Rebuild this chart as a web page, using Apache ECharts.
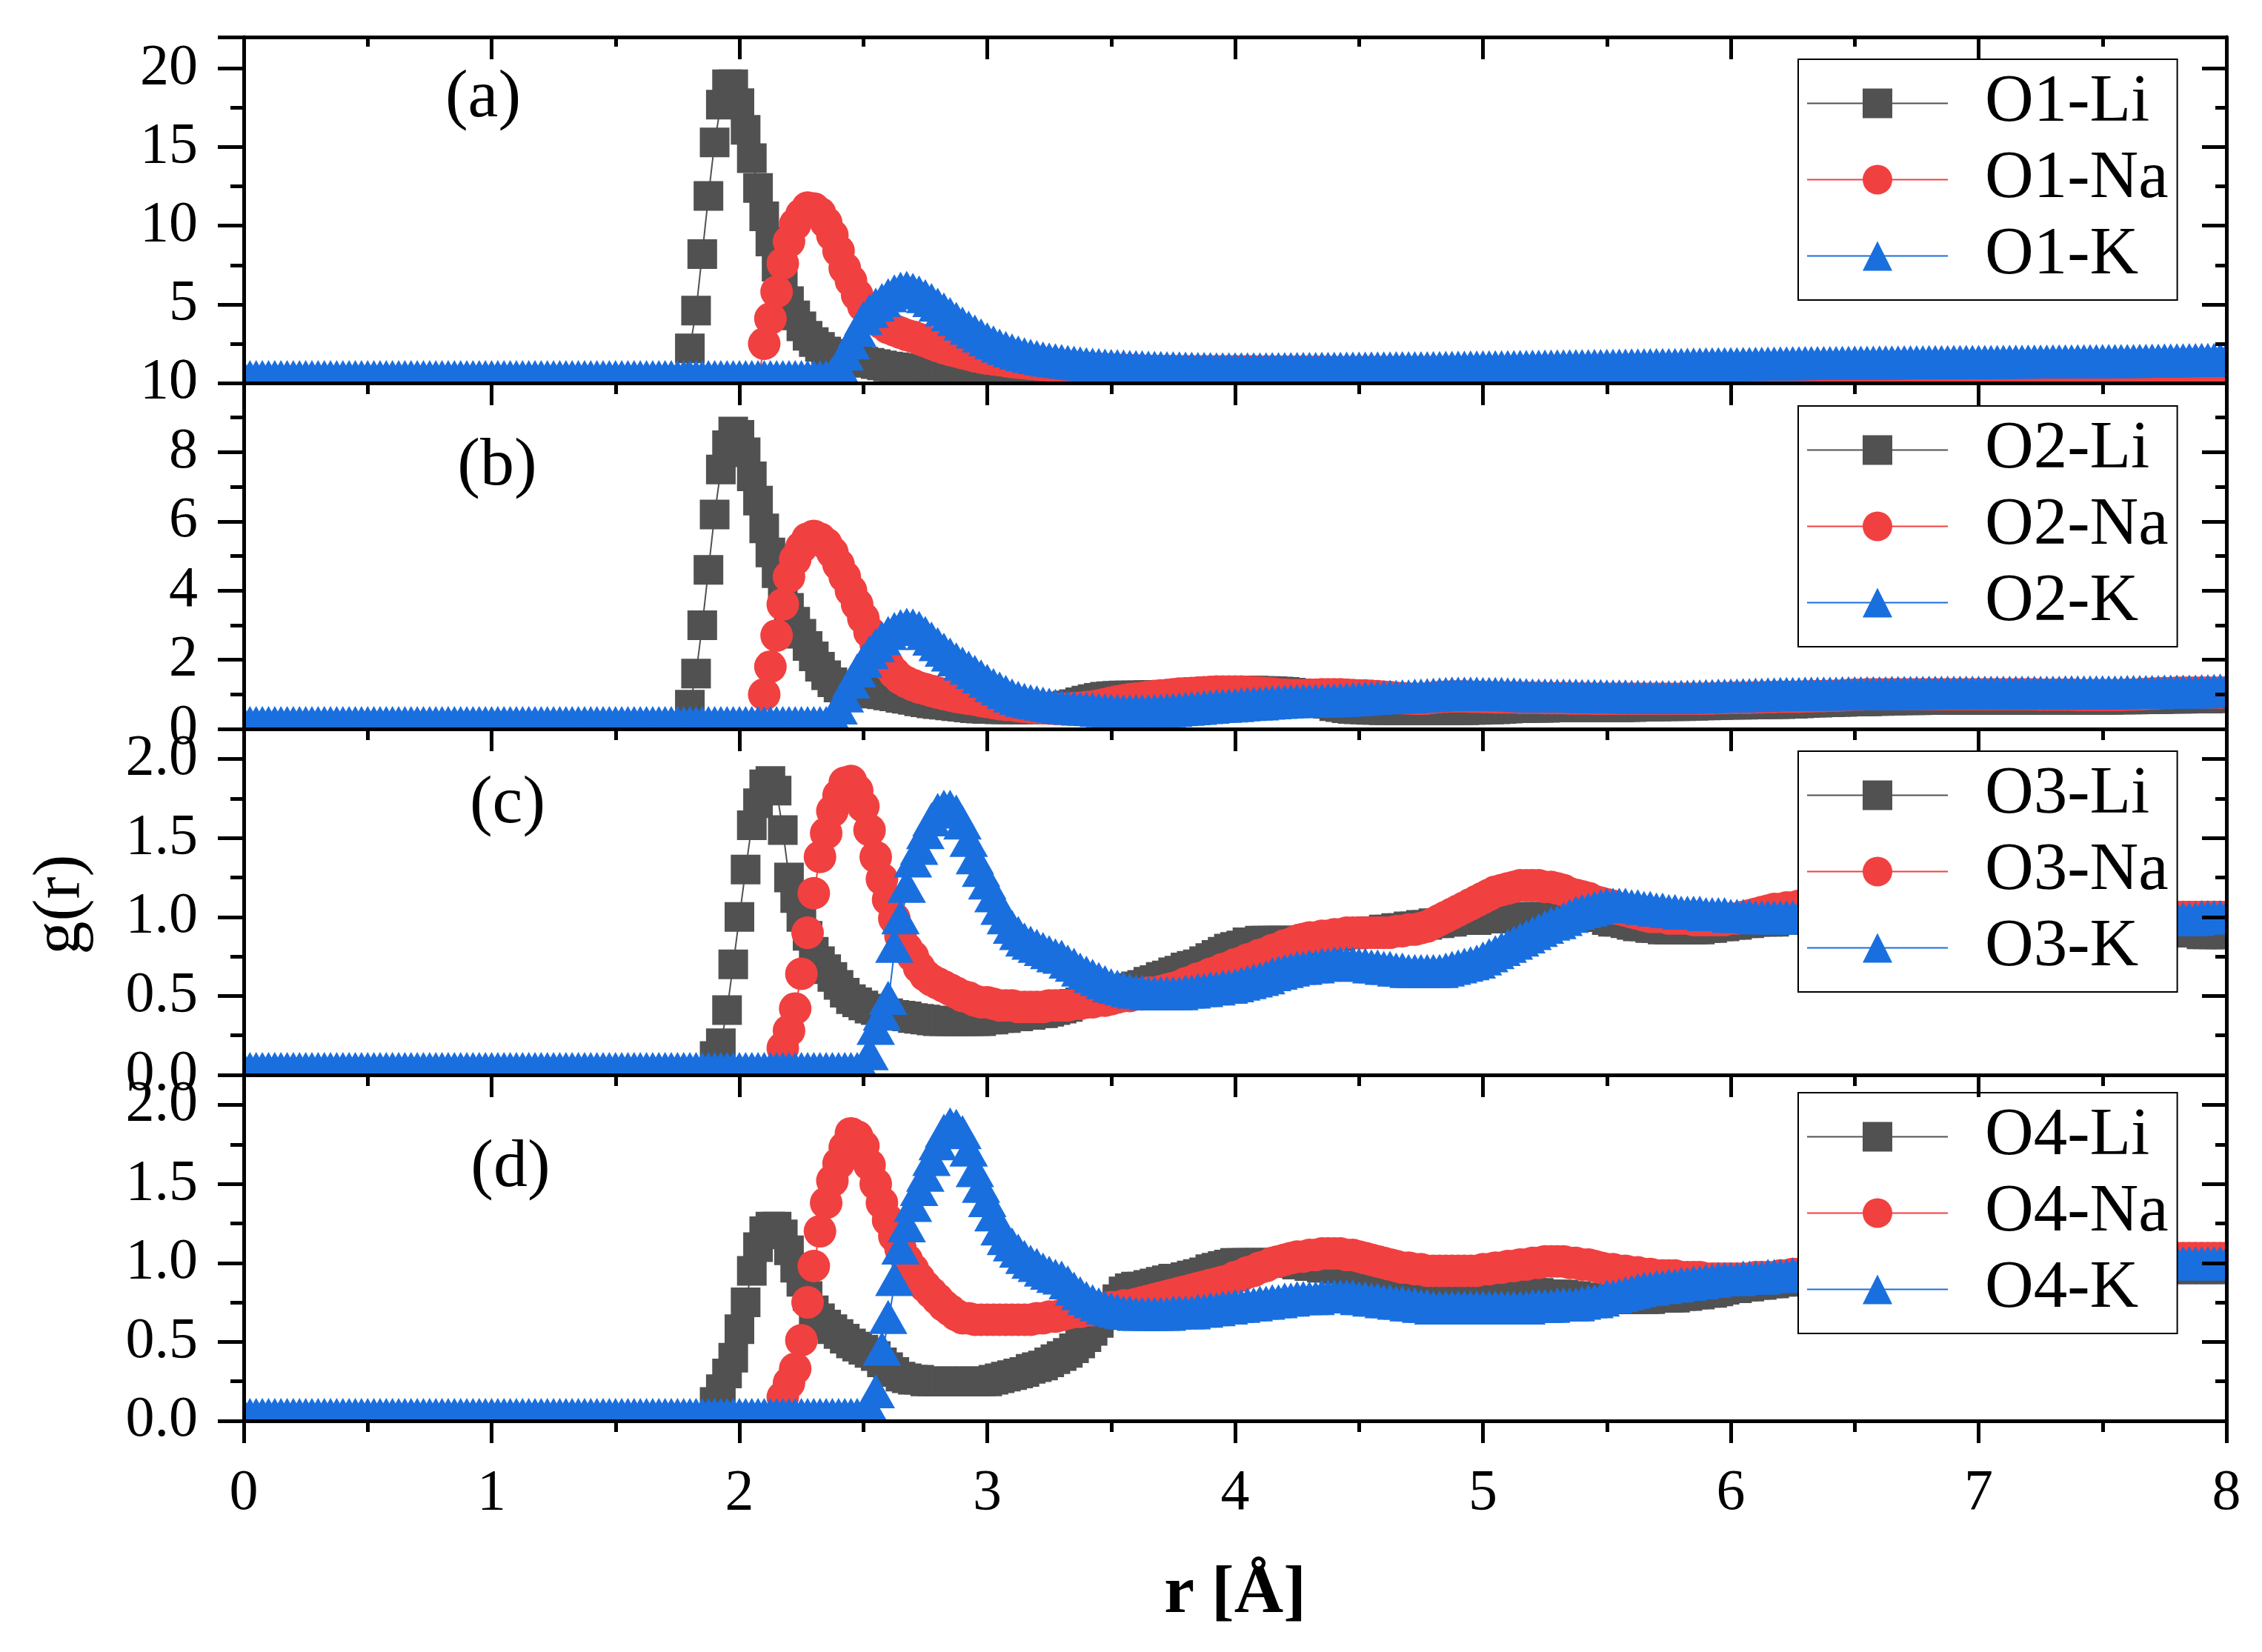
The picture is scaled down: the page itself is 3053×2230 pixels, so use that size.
<!DOCTYPE html>
<html>
<head>
<meta charset="utf-8">
<title>g(r)</title>
<script src="https://cdn.jsdelivr.net/npm/echarts@6.0.0/dist/echarts.min.js"></script>
<style>
html, body { margin: 0; padding: 0; background: #fff; }
#main { width: 3053px; height: 2230px; }
</style>
</head>
<body>
<div id="main"></div>
<script>
// r grid (Å), one row = 0.5 Å
var r = [
  0,0.025,0.05,0.075,0.1,0.125,0.15,0.175,0.2,0.225,0.25,0.275,0.3,0.325,0.35,0.375,0.4,0.425,0.45,0.475,
  0.5,0.525,0.55,0.575,0.6,0.625,0.65,0.675,0.7,0.725,0.75,0.775,0.8,0.825,0.85,0.875,0.9,0.925,0.95,0.975,
  1,1.025,1.05,1.075,1.1,1.125,1.15,1.175,1.2,1.225,1.25,1.275,1.3,1.325,1.35,1.375,1.4,1.425,1.45,1.475,
  1.5,1.525,1.55,1.575,1.6,1.625,1.65,1.675,1.7,1.725,1.75,1.775,1.8,1.825,1.85,1.875,1.9,1.925,1.95,1.975,
  2,2.025,2.05,2.075,2.1,2.125,2.15,2.175,2.2,2.225,2.25,2.275,2.3,2.325,2.35,2.375,2.4,2.425,2.45,2.475,
  2.5,2.525,2.55,2.575,2.6,2.625,2.65,2.675,2.7,2.725,2.75,2.775,2.8,2.825,2.85,2.875,2.9,2.925,2.95,2.975,
  3,3.025,3.05,3.075,3.1,3.125,3.15,3.175,3.2,3.225,3.25,3.275,3.3,3.325,3.35,3.375,3.4,3.425,3.45,3.475,
  3.5,3.525,3.55,3.575,3.6,3.625,3.65,3.675,3.7,3.725,3.75,3.775,3.8,3.825,3.85,3.875,3.9,3.925,3.95,3.975,
  4,4.025,4.05,4.075,4.1,4.125,4.15,4.175,4.2,4.225,4.25,4.275,4.3,4.325,4.35,4.375,4.4,4.425,4.45,4.475,
  4.5,4.525,4.55,4.575,4.6,4.625,4.65,4.675,4.7,4.725,4.75,4.775,4.8,4.825,4.85,4.875,4.9,4.925,4.95,4.975,
  5,5.025,5.05,5.075,5.1,5.125,5.15,5.175,5.2,5.225,5.25,5.275,5.3,5.325,5.35,5.375,5.4,5.425,5.45,5.475,
  5.5,5.525,5.55,5.575,5.6,5.625,5.65,5.675,5.7,5.725,5.75,5.775,5.8,5.825,5.85,5.875,5.9,5.925,5.95,5.975,
  6,6.025,6.05,6.075,6.1,6.125,6.15,6.175,6.2,6.225,6.25,6.275,6.3,6.325,6.35,6.375,6.4,6.425,6.45,6.475,
  6.5,6.525,6.55,6.575,6.6,6.625,6.65,6.675,6.7,6.725,6.75,6.775,6.8,6.825,6.85,6.875,6.9,6.925,6.95,6.975,
  7,7.025,7.05,7.075,7.1,7.125,7.15,7.175,7.2,7.225,7.25,7.275,7.3,7.325,7.35,7.375,7.4,7.425,7.45,7.475,
  7.5,7.525,7.55,7.575,7.6,7.625,7.65,7.675,7.7,7.725,7.75,7.775,7.8,7.825,7.85,7.875,7.9,7.925,7.95,7.975,
  8
];

// (a) O1
var o1Li = [
  0,0,0,0,0,0,0,0,0,0,0,0,0,0,0,0,0,0,0,0,
  0,0,0,0,0,0,0,0,0,0,0,0,0,0,0,0,0,0,0,0,
  0,0,0,0,0,0,0,0,0,0,0,0,0,0,0,0,0,0,0,0,
  0,0,0,0,0,0,0,0,0,0,0,0,2.2,4.6,8.2,11.9,15.3,17.7,19.0,19.0,
  17.8,16.1,14.3,12.4,10.6,9.0,7.4,6.2,5.2,4.3,3.6,3.0,2.6,2.3,2.0,1.85,1.7,1.6,1.5,1.42,
  1.35,1.28,1.2,1.12,1.05,1.0,0.95,0.92,0.9,0.86,0.82,0.78,0.75,0.72,0.7,0.68,0.66,0.64,0.62,0.61,
  0.6,0.59,0.58,0.57,0.57,0.57,0.57,0.57,0.58,0.59,0.6,0.61,0.62,0.63,0.65,0.66,0.68,0.69,0.7,0.71,
  0.72,0.72,0.73,0.73,0.74,0.74,0.75,0.75,0.76,0.76,0.77,0.77,0.78,0.78,0.78,0.78,0.79,0.79,0.79,0.79,
  0.8,0.8,0.8,0.8,0.79,0.79,0.78,0.77,0.76,0.75,0.73,0.72,0.7,0.68,0.66,0.65,0.63,0.62,0.6,0.59,
  0.58,0.57,0.57,0.56,0.56,0.56,0.56,0.56,0.56,0.56,0.56,0.56,0.56,0.56,0.57,0.57,0.57,0.57,0.58,0.58,
  0.58,0.58,0.59,0.59,0.6,0.6,0.6,0.6,0.61,0.61,0.61,0.61,0.62,0.62,0.62,0.62,0.62,0.62,0.63,0.63,
  0.63,0.63,0.63,0.63,0.64,0.64,0.64,0.64,0.65,0.65,0.65,0.65,0.66,0.66,0.66,0.66,0.67,0.67,0.67,0.67,
  0.68,0.68,0.68,0.68,0.69,0.69,0.69,0.69,0.7,0.7,0.7,0.7,0.71,0.71,0.71,0.71,0.72,0.72,0.72,0.72,
  0.73,0.73,0.73,0.73,0.74,0.74,0.74,0.74,0.74,0.74,0.75,0.75,0.75,0.75,0.75,0.75,0.76,0.76,0.76,0.76,
  0.76,0.76,0.77,0.77,0.77,0.77,0.77,0.77,0.78,0.78,0.78,0.78,0.78,0.78,0.78,0.78,0.79,0.79,0.79,0.79,
  0.79,0.79,0.8,0.8,0.8,0.8,0.8,0.8,0.8,0.8,0.81,0.81,0.81,0.81,0.81,0.81,0.82,0.82,0.82,0.82,
  0.82
];
var o1Na = [
  0,0,0,0,0,0,0,0,0,0,0,0,0,0,0,0,0,0,0,0,
  0,0,0,0,0,0,0,0,0,0,0,0,0,0,0,0,0,0,0,0,
  0,0,0,0,0,0,0,0,0,0,0,0,0,0,0,0,0,0,0,0,
  0,0,0,0,0,0,0,0,0,0,0,0,0,0,0,0,0,0,0,0,
  0,0,0,0,2.5,4.1,5.8,7.6,9.0,10.1,10.7,11.15,11.1,10.8,10.2,9.4,8.4,7.3,6.5,5.6,
  4.9,4.4,4.1,3.8,3.5,3.35,3.2,3.05,2.95,2.8,2.65,2.5,2.35,2.22,2.1,2.0,1.9,1.8,1.7,1.62,
  1.55,1.5,1.45,1.39,1.33,1.29,1.25,1.21,1.18,1.15,1.12,1.1,1.07,1.03,1.0,0.97,0.95,0.92,0.9,0.88,
  0.86,0.84,0.83,0.81,0.8,0.79,0.78,0.77,0.76,0.75,0.75,0.74,0.74,0.74,0.74,0.74,0.74,0.74,0.74,0.74,
  0.74,0.74,0.74,0.74,0.73,0.73,0.73,0.73,0.72,0.72,0.72,0.72,0.71,0.71,0.71,0.71,0.7,0.7,0.7,0.7,
  0.7,0.7,0.7,0.7,0.69,0.69,0.69,0.69,0.69,0.69,0.69,0.69,0.69,0.69,0.69,0.69,0.7,0.7,0.7,0.7,
  0.7,0.7,0.7,0.7,0.71,0.71,0.71,0.71,0.71,0.71,0.72,0.72,0.72,0.72,0.72,0.72,0.73,0.73,0.73,0.73,
  0.73,0.73,0.74,0.74,0.74,0.74,0.74,0.74,0.75,0.75,0.75,0.75,0.75,0.75,0.76,0.76,0.76,0.76,0.76,0.76,
  0.77,0.77,0.77,0.77,0.77,0.77,0.78,0.78,0.78,0.78,0.78,0.78,0.79,0.79,0.79,0.79,0.79,0.79,0.8,0.8,
  0.8,0.8,0.8,0.8,0.8,0.8,0.81,0.81,0.81,0.81,0.81,0.81,0.81,0.81,0.82,0.82,0.82,0.82,0.82,0.82,
  0.82,0.82,0.83,0.83,0.83,0.83,0.83,0.83,0.83,0.83,0.84,0.84,0.84,0.84,0.84,0.84,0.84,0.84,0.85,0.85,
  0.85,0.85,0.85,0.85,0.85,0.85,0.86,0.86,0.86,0.86,0.86,0.86,0.86,0.86,0.87,0.87,0.87,0.87,0.87,0.87,
  0.88
];
var o1K = [
  0,0,0,0,0,0,0,0,0,0,0,0,0,0,0,0,0,0,0,0,
  0,0,0,0,0,0,0,0,0,0,0,0,0,0,0,0,0,0,0,0,
  0,0,0,0,0,0,0,0,0,0,0,0,0,0,0,0,0,0,0,0,
  0,0,0,0,0,0,0,0,0,0,0,0,0,0,0,0,0,0,0,0,
  0,0,0,0,0,0,0,0,0,0,0,0,0,0,0,0.2,0.8,1.5,2.2,3.0,
  3.75,4.2,4.6,4.9,5.2,5.45,5.62,5.68,5.55,5.38,5.15,4.9,4.6,4.3,4.0,3.7,3.4,3.15,2.9,2.65,
  2.4,2.2,2.0,1.85,1.7,1.57,1.45,1.36,1.27,1.19,1.12,1.07,1.02,0.97,0.92,0.87,0.83,0.79,0.76,0.73,
  0.71,0.69,0.67,0.65,0.64,0.62,0.6,0.59,0.58,0.57,0.56,0.55,0.54,0.53,0.52,0.52,0.51,0.5,0.5,0.5,
  0.5,0.5,0.5,0.5,0.5,0.5,0.51,0.51,0.51,0.51,0.52,0.52,0.52,0.52,0.53,0.53,0.53,0.53,0.54,0.54,
  0.54,0.54,0.55,0.55,0.55,0.55,0.56,0.56,0.56,0.56,0.57,0.57,0.58,0.58,0.59,0.59,0.6,0.6,0.61,0.61,
  0.62,0.62,0.63,0.63,0.64,0.64,0.65,0.65,0.66,0.66,0.67,0.67,0.68,0.68,0.69,0.69,0.7,0.7,0.71,0.71,
  0.72,0.72,0.73,0.73,0.74,0.74,0.75,0.75,0.76,0.76,0.77,0.77,0.78,0.79,0.8,0.8,0.81,0.81,0.82,0.82,
  0.83,0.83,0.84,0.84,0.85,0.85,0.86,0.86,0.87,0.87,0.88,0.88,0.89,0.89,0.9,0.9,0.9,0.9,0.91,0.91,
  0.92,0.92,0.92,0.92,0.93,0.93,0.93,0.93,0.94,0.94,0.94,0.94,0.95,0.95,0.95,0.95,0.96,0.96,0.96,0.96,
  0.97,0.97,0.97,0.97,0.98,0.98,0.98,0.98,0.99,0.99,0.99,0.99,1.0,1.0,1.0,1.0,1.01,1.01,1.01,1.01,
  1.02,1.02,1.03,1.03,1.03,1.03,1.04,1.04,1.05,1.05,1.06,1.06,1.07,1.07,1.08,1.08,1.09,1.09,1.1,1.11,
  1.12
];

// (b) O2
var o2Li = [
  0,0,0,0,0,0,0,0,0,0,0,0,0,0,0,0,0,0,0,0,
  0,0,0,0,0,0,0,0,0,0,0,0,0,0,0,0,0,0,0,0,
  0,0,0,0,0,0,0,0,0,0,0,0,0,0,0,0,0,0,0,0,
  0,0,0,0,0,0,0,0,0,0,0,0,0.7,1.6,3.0,4.6,6.2,7.5,8.2,8.6,
  8.5,8.0,7.3,6.6,5.8,5.1,4.5,4.0,3.5,3.1,2.75,2.4,2.1,1.8,1.55,1.35,1.2,1.13,1.08,1.06,
  1.05,1.04,1.02,1.0,0.97,0.94,0.9,0.87,0.84,0.8,0.77,0.74,0.72,0.7,0.68,0.66,0.64,0.62,0.6,0.59,
  0.58,0.58,0.57,0.57,0.57,0.57,0.57,0.57,0.58,0.59,0.6,0.62,0.65,0.68,0.72,0.77,0.82,0.86,0.9,0.93,
  0.95,0.96,0.97,0.97,0.97,0.97,0.98,0.98,0.98,0.99,1.0,1.01,1.03,1.05,1.06,1.07,1.08,1.09,1.1,1.1,
  1.11,1.11,1.11,1.11,1.1,1.1,1.09,1.08,1.07,1.05,1.02,0.99,0.95,0.88,0.8,0.73,0.66,0.63,0.6,0.58,
  0.57,0.56,0.55,0.55,0.54,0.54,0.54,0.54,0.54,0.54,0.54,0.54,0.54,0.54,0.54,0.54,0.54,0.54,0.55,0.55,
  0.56,0.56,0.57,0.58,0.59,0.6,0.6,0.61,0.61,0.61,0.61,0.62,0.62,0.62,0.62,0.62,0.62,0.62,0.62,0.62,
  0.62,0.62,0.62,0.63,0.63,0.64,0.64,0.65,0.65,0.66,0.66,0.66,0.66,0.67,0.67,0.68,0.68,0.69,0.69,0.7,
  0.7,0.7,0.7,0.71,0.71,0.72,0.72,0.72,0.72,0.73,0.73,0.74,0.75,0.76,0.76,0.77,0.77,0.78,0.78,0.79,
  0.79,0.8,0.8,0.81,0.81,0.82,0.82,0.83,0.83,0.83,0.83,0.84,0.84,0.84,0.84,0.84,0.84,0.84,0.84,0.84,
  0.84,0.84,0.84,0.84,0.84,0.84,0.84,0.84,0.84,0.84,0.84,0.84,0.84,0.84,0.84,0.84,0.84,0.84,0.84,0.84,
  0.84,0.84,0.85,0.85,0.85,0.85,0.86,0.86,0.86,0.86,0.87,0.87,0.87,0.87,0.88,0.88,0.88,0.88,0.89,0.89,
  0.9
];
var o2Na = [
  0,0,0,0,0,0,0,0,0,0,0,0,0,0,0,0,0,0,0,0,
  0,0,0,0,0,0,0,0,0,0,0,0,0,0,0,0,0,0,0,0,
  0,0,0,0,0,0,0,0,0,0,0,0,0,0,0,0,0,0,0,0,
  0,0,0,0,0,0,0,0,0,0,0,0,0,0,0,0,0,0,0,0,
  0,0,0,0,1.0,1.8,2.7,3.6,4.4,4.9,5.25,5.5,5.58,5.5,5.35,5.1,4.75,4.4,4.0,3.6,
  3.2,2.8,2.45,2.1,1.85,1.62,1.45,1.35,1.27,1.2,1.15,1.1,1.05,1.01,0.97,0.93,0.9,0.87,0.85,0.81,
  0.78,0.75,0.72,0.7,0.69,0.66,0.64,0.62,0.61,0.6,0.59,0.58,0.58,0.59,0.6,0.61,0.63,0.65,0.68,0.72,
  0.76,0.8,0.83,0.86,0.88,0.9,0.93,0.95,0.97,0.98,1.0,1.02,1.03,1.04,1.05,1.06,1.07,1.08,1.08,1.08,
  1.08,1.08,1.07,1.06,1.05,1.04,1.02,1.0,0.99,0.98,0.98,0.98,0.99,0.99,1.0,1.0,1.0,1.0,0.99,0.98,
  0.97,0.97,0.96,0.95,0.93,0.92,0.9,0.89,0.88,0.87,0.87,0.88,0.9,0.92,0.93,0.94,0.94,0.94,0.93,0.93,
  0.92,0.92,0.91,0.91,0.91,0.91,0.9,0.9,0.9,0.9,0.89,0.89,0.89,0.89,0.88,0.88,0.88,0.88,0.87,0.87,
  0.87,0.87,0.87,0.87,0.87,0.87,0.87,0.87,0.87,0.87,0.87,0.87,0.87,0.87,0.87,0.87,0.88,0.88,0.89,0.89,
  0.9,0.9,0.9,0.9,0.91,0.91,0.92,0.92,0.93,0.93,0.93,0.93,0.94,0.94,0.95,0.95,0.96,0.96,0.97,0.98,
  0.99,0.99,1.0,1.0,1.0,1.0,1.0,1.0,1.0,1.0,1.0,1.0,1.0,1.0,1.0,1.0,1.0,1.0,1.0,1.0,
  1.0,1.0,1.0,1.0,1.0,1.0,1.0,1.0,1.0,1.0,0.99,0.99,0.99,0.99,0.99,0.99,0.98,0.98,0.98,0.98,
  0.98,0.98,0.98,0.98,0.99,0.99,1.0,1.01,1.02,1.03,1.04,1.04,1.05,1.05,1.05,1.05,1.05,1.05,1.05,1.05,
  1.06
];
var o2K = [
  0,0,0,0,0,0,0,0,0,0,0,0,0,0,0,0,0,0,0,0,
  0,0,0,0,0,0,0,0,0,0,0,0,0,0,0,0,0,0,0,0,
  0,0,0,0,0,0,0,0,0,0,0,0,0,0,0,0,0,0,0,0,
  0,0,0,0,0,0,0,0,0,0,0,0,0,0,0,0,0,0,0,0,
  0,0,0,0,0,0,0,0,0,0,0,0,0,0,0,0.2,0.45,0.8,1.2,1.52,
  1.8,2.05,2.25,2.45,2.6,2.72,2.8,2.84,2.82,2.75,2.6,2.44,2.28,2.12,1.98,1.84,1.72,1.6,1.48,1.35,
  1.22,1.1,1.0,0.9,0.8,0.73,0.67,0.63,0.6,0.56,0.53,0.5,0.47,0.45,0.44,0.42,0.41,0.4,0.38,0.37,
  0.36,0.35,0.34,0.34,0.34,0.34,0.34,0.35,0.36,0.37,0.38,0.4,0.41,0.43,0.44,0.46,0.47,0.49,0.5,0.51,
  0.52,0.54,0.55,0.56,0.57,0.59,0.6,0.61,0.62,0.63,0.63,0.64,0.64,0.65,0.65,0.66,0.66,0.67,0.68,0.69,
  0.7,0.72,0.73,0.74,0.75,0.76,0.76,0.77,0.77,0.79,0.8,0.81,0.82,0.83,0.84,0.85,0.85,0.85,0.85,0.85,
  0.84,0.84,0.84,0.84,0.83,0.83,0.82,0.81,0.8,0.8,0.8,0.8,0.79,0.79,0.79,0.79,0.78,0.78,0.78,0.78,
  0.77,0.77,0.77,0.77,0.76,0.76,0.75,0.75,0.75,0.75,0.75,0.75,0.76,0.76,0.77,0.77,0.78,0.78,0.79,0.79,
  0.8,0.8,0.81,0.81,0.82,0.82,0.83,0.83,0.84,0.84,0.84,0.84,0.85,0.85,0.85,0.85,0.85,0.85,0.86,0.86,
  0.86,0.86,0.86,0.86,0.86,0.86,0.87,0.87,0.87,0.87,0.87,0.87,0.88,0.88,0.88,0.88,0.88,0.88,0.88,0.88,
  0.88,0.88,0.88,0.88,0.88,0.88,0.88,0.88,0.88,0.88,0.88,0.88,0.88,0.88,0.89,0.89,0.89,0.89,0.89,0.89,
  0.89,0.89,0.89,0.89,0.9,0.9,0.9,0.9,0.9,0.9,0.91,0.91,0.91,0.91,0.91,0.91,0.92,0.92,0.93,0.94,
  0.95
];

// (c) O3
var o3Li = [
  0,0,0,0,0,0,0,0,0,0,0,0,0,0,0,0,0,0,0,0,
  0,0,0,0,0,0,0,0,0,0,0,0,0,0,0,0,0,0,0,0,
  0,0,0,0,0,0,0,0,0,0,0,0,0,0,0,0,0,0,0,0,
  0,0,0,0,0,0,0,0,0,0,0,0,0,0,0,0,0.12,0.2,0.41,0.7,
  1.0,1.3,1.58,1.72,1.84,1.86,1.8,1.55,1.25,1.12,1.0,0.88,0.78,0.72,0.67,0.62,0.57,0.52,0.48,0.46,
  0.44,0.42,0.41,0.4,0.39,0.38,0.375,0.37,0.36,0.355,0.35,0.345,0.34,0.34,0.34,0.34,0.34,0.34,0.34,0.34,
  0.35,0.35,0.36,0.36,0.37,0.37,0.38,0.38,0.39,0.39,0.4,0.41,0.42,0.43,0.45,0.46,0.48,0.49,0.5,0.51,
  0.52,0.53,0.54,0.55,0.56,0.57,0.59,0.6,0.62,0.63,0.65,0.66,0.68,0.69,0.7,0.72,0.74,0.76,0.78,0.8,
  0.81,0.82,0.84,0.84,0.85,0.85,0.85,0.85,0.85,0.85,0.85,0.85,0.86,0.86,0.87,0.87,0.88,0.88,0.89,0.89,
  0.9,0.9,0.91,0.91,0.92,0.92,0.93,0.93,0.94,0.94,0.95,0.95,0.96,0.96,0.97,0.97,0.98,0.98,0.98,0.98,
  0.99,0.99,0.99,0.99,0.99,0.99,1.0,1.0,1.0,1.0,1.0,1.0,1.0,1.0,1.0,1.0,1.0,1.0,1.0,1.0,
  0.98,0.97,0.97,0.96,0.95,0.94,0.94,0.93,0.93,0.92,0.92,0.92,0.92,0.92,0.92,0.92,0.93,0.93,0.94,0.94,
  0.95,0.95,0.96,0.96,0.97,0.97,0.97,0.97,0.98,0.98,0.98,0.98,0.98,0.98,0.97,0.97,0.96,0.96,0.95,0.95,
  0.94,0.94,0.93,0.93,0.92,0.92,0.92,0.92,0.92,0.92,0.93,0.93,0.94,0.94,0.95,0.95,0.96,0.96,0.96,0.96,
  0.96,0.96,0.95,0.95,0.94,0.94,0.93,0.93,0.92,0.92,0.91,0.91,0.9,0.9,0.9,0.9,0.9,0.9,0.9,0.9,
  0.9,0.9,0.9,0.9,0.9,0.9,0.9,0.9,0.9,0.9,0.9,0.9,0.9,0.9,0.9,0.9,0.89,0.89,0.89,0.89,
  0.89
];
var o3Na = [
  0,0,0,0,0,0,0,0,0,0,0,0,0,0,0,0,0,0,0,0,
  0,0,0,0,0,0,0,0,0,0,0,0,0,0,0,0,0,0,0,0,
  0,0,0,0,0,0,0,0,0,0,0,0,0,0,0,0,0,0,0,0,
  0,0,0,0,0,0,0,0,0,0,0,0,0,0,0,0,0,0,0,0,
  0,0,0,0,0,0,0,0.17,0.28,0.42,0.64,0.9,1.15,1.38,1.53,1.67,1.77,1.85,1.86,1.8,
  1.7,1.55,1.38,1.24,1.11,0.99,0.88,0.8,0.75,0.68,0.63,0.6,0.58,0.56,0.54,0.52,0.5,0.49,0.47,0.46,
  0.46,0.45,0.44,0.44,0.44,0.43,0.43,0.43,0.43,0.43,0.44,0.44,0.44,0.44,0.45,0.45,0.46,0.46,0.47,0.47,
  0.48,0.49,0.5,0.5,0.51,0.51,0.52,0.52,0.53,0.54,0.55,0.56,0.58,0.59,0.61,0.62,0.64,0.65,0.67,0.68,
  0.7,0.71,0.73,0.74,0.76,0.77,0.79,0.8,0.82,0.83,0.85,0.86,0.87,0.87,0.88,0.88,0.89,0.89,0.9,0.9,
  0.9,0.9,0.9,0.9,0.9,0.9,0.91,0.91,0.92,0.92,0.93,0.94,0.96,0.98,1.0,1.02,1.04,1.06,1.08,1.1,
  1.12,1.14,1.16,1.17,1.18,1.19,1.2,1.2,1.2,1.2,1.19,1.19,1.18,1.17,1.15,1.14,1.13,1.12,1.1,1.09,
  1.08,1.07,1.05,1.04,1.03,1.02,1.01,1.0,1.0,1.0,0.99,0.99,0.99,0.99,0.98,0.98,0.98,0.98,0.98,0.98,
  0.99,0.99,1.0,1.01,1.02,1.03,1.04,1.05,1.05,1.06,1.06,1.07,1.07,1.07,1.07,1.08,1.08,1.08,1.08,1.08,
  1.08,1.08,1.07,1.07,1.06,1.06,1.05,1.05,1.04,1.04,1.03,1.03,1.02,1.02,1.01,1.01,1.0,1.0,1.0,1.0,
  0.99,0.99,0.99,0.99,0.99,0.99,1.0,1.0,1.0,1.0,1.0,1.0,1.01,1.01,1.01,1.01,1.01,1.01,1.01,1.01,
  1.0,1.0,1.0,1.0,1.0,1.0,1.0,1.0,1.0,1.0,1.0,1.0,1.0,1.0,1.0,1.0,1.0,1.0,1.0,1.0,
  1.0
];
var o3K = [
  0,0,0,0,0,0,0,0,0,0,0,0,0,0,0,0,0,0,0,0,
  0,0,0,0,0,0,0,0,0,0,0,0,0,0,0,0,0,0,0,0,
  0,0,0,0,0,0,0,0,0,0,0,0,0,0,0,0,0,0,0,0,
  0,0,0,0,0,0,0,0,0,0,0,0,0,0,0,0,0,0,0,0,
  0,0,0,0,0,0,0,0,0,0,0,0,0,0,0,0,0,0,0,0,
  0,0.1,0.26,0.35,0.45,0.78,0.96,1.16,1.32,1.4,1.5,1.58,1.64,1.66,1.66,1.63,1.56,1.45,1.34,1.26,
  1.18,1.1,1.02,0.96,0.9,0.86,0.82,0.8,0.78,0.76,0.74,0.72,0.71,0.68,0.66,0.63,0.61,0.59,0.57,0.55,
  0.53,0.52,0.51,0.5,0.49,0.49,0.48,0.48,0.48,0.48,0.48,0.48,0.49,0.49,0.5,0.5,0.51,0.51,0.52,0.52,
  0.53,0.54,0.55,0.56,0.57,0.58,0.6,0.61,0.62,0.63,0.64,0.64,0.65,0.65,0.66,0.66,0.67,0.67,0.67,0.67,
  0.66,0.66,0.65,0.65,0.64,0.64,0.63,0.63,0.62,0.62,0.62,0.62,0.62,0.62,0.63,0.64,0.65,0.66,0.67,0.68,
  0.7,0.72,0.74,0.76,0.78,0.8,0.82,0.84,0.86,0.88,0.9,0.92,0.93,0.95,0.97,0.99,1.0,1.01,1.02,1.03,
  1.04,1.04,1.04,1.04,1.03,1.03,1.02,1.02,1.01,1.01,1.0,1.0,0.99,0.99,0.99,0.99,0.98,0.98,0.98,0.98,
  0.97,0.97,0.97,0.97,0.96,0.96,0.96,0.96,0.96,0.96,0.96,0.96,0.96,0.96,0.96,0.96,0.96,0.96,0.97,0.97,
  0.97,0.97,0.98,0.98,0.98,0.98,0.98,0.98,0.98,0.98,0.98,0.98,0.97,0.97,0.97,0.97,0.97,0.97,0.96,0.96,
  0.96,0.96,0.96,0.96,0.96,0.96,0.96,0.96,0.96,0.96,0.95,0.95,0.95,0.95,0.95,0.95,0.95,0.95,0.95,0.95,
  0.95,0.95,0.95,0.95,0.95,0.95,0.95,0.95,0.95,0.95,0.95,0.95,0.95,0.95,0.95,0.95,0.96,0.96,0.96,0.96,
  0.96
];

// (d) O4
var o4Li = [
  0,0,0,0,0,0,0,0,0,0,0,0,0,0,0,0,0,0,0,0,
  0,0,0,0,0,0,0,0,0,0,0,0,0,0,0,0,0,0,0,0,
  0,0,0,0,0,0,0,0,0,0,0,0,0,0,0,0,0,0,0,0,
  0,0,0,0,0,0,0,0,0,0,0,0,0,0,0,0,0.12,0.2,0.3,0.4,
  0.58,0.75,0.95,1.1,1.2,1.23,1.23,1.18,1.08,0.97,0.88,0.79,0.7,0.65,0.61,0.58,0.55,0.52,0.49,0.47,
  0.45,0.43,0.41,0.37,0.34,0.31,0.28,0.27,0.26,0.26,0.25,0.25,0.25,0.25,0.25,0.25,0.25,0.25,0.25,0.25,
  0.25,0.26,0.27,0.28,0.29,0.3,0.31,0.33,0.34,0.35,0.37,0.39,0.41,0.43,0.46,0.49,0.53,0.57,0.62,0.67,
  0.72,0.77,0.82,0.84,0.85,0.85,0.86,0.87,0.88,0.89,0.9,0.9,0.91,0.92,0.93,0.94,0.96,0.97,0.98,0.99,
  1.0,1.0,1.0,1.0,1.0,1.0,1.0,1.0,1.0,1.0,0.99,0.99,0.98,0.98,0.97,0.97,0.96,0.96,0.95,0.94,
  0.93,0.92,0.91,0.9,0.89,0.88,0.87,0.87,0.86,0.86,0.85,0.85,0.84,0.84,0.83,0.83,0.82,0.82,0.82,0.82,
  0.82,0.82,0.82,0.82,0.82,0.82,0.81,0.81,0.81,0.81,0.8,0.8,0.8,0.8,0.79,0.79,0.78,0.78,0.78,0.78,
  0.77,0.77,0.77,0.77,0.77,0.77,0.77,0.77,0.78,0.78,0.78,0.78,0.79,0.79,0.8,0.8,0.81,0.81,0.82,0.83,
  0.84,0.84,0.85,0.85,0.86,0.86,0.87,0.87,0.88,0.88,0.89,0.89,0.9,0.9,0.9,0.9,0.91,0.91,0.92,0.92,
  0.92,0.92,0.93,0.93,0.93,0.93,0.94,0.94,0.94,0.94,0.94,0.94,0.95,0.95,0.95,0.95,0.95,0.95,0.95,0.95,
  0.95,0.95,0.96,0.96,0.96,0.96,0.96,0.96,0.96,0.96,0.96,0.96,0.96,0.96,0.96,0.96,0.96,0.96,0.96,0.96,
  0.96,0.96,0.96,0.96,0.96,0.96,0.96,0.96,0.96,0.96,0.96,0.96,0.96,0.96,0.96,0.96,0.96,0.96,0.96,0.96,
  0.96
];
var o4Na = [
  0,0,0,0,0,0,0,0,0,0,0,0,0,0,0,0,0,0,0,0,
  0,0,0,0,0,0,0,0,0,0,0,0,0,0,0,0,0,0,0,0,
  0,0,0,0,0,0,0,0,0,0,0,0,0,0,0,0,0,0,0,0,
  0,0,0,0,0,0,0,0,0,0,0,0,0,0,0,0,0,0,0,0,
  0,0,0,0,0,0,0,0.15,0.24,0.33,0.51,0.75,0.98,1.2,1.38,1.52,1.63,1.73,1.82,1.8,
  1.74,1.62,1.5,1.38,1.27,1.17,1.09,1.02,0.96,0.9,0.85,0.81,0.77,0.73,0.7,0.67,0.65,0.65,0.64,0.64,
  0.64,0.64,0.64,0.64,0.64,0.64,0.64,0.64,0.65,0.65,0.66,0.66,0.67,0.68,0.69,0.69,0.7,0.7,0.71,0.71,
  0.72,0.72,0.73,0.73,0.74,0.75,0.76,0.77,0.78,0.79,0.8,0.81,0.82,0.83,0.84,0.85,0.86,0.87,0.88,0.89,
  0.91,0.92,0.94,0.95,0.97,0.98,1.0,1.01,1.02,1.03,1.04,1.04,1.05,1.05,1.06,1.06,1.06,1.06,1.05,1.05,
  1.04,1.03,1.02,1.01,1.0,0.99,0.98,0.97,0.97,0.96,0.96,0.95,0.95,0.95,0.95,0.95,0.95,0.95,0.95,0.95,
  0.96,0.96,0.97,0.97,0.98,0.98,0.99,0.99,1.0,1.0,1.01,1.01,1.01,1.01,1.0,1.0,0.99,0.99,0.98,0.97,
  0.96,0.96,0.95,0.95,0.94,0.94,0.93,0.93,0.92,0.92,0.92,0.92,0.91,0.91,0.91,0.91,0.9,0.9,0.9,0.9,
  0.9,0.9,0.9,0.9,0.91,0.91,0.91,0.91,0.92,0.92,0.93,0.93,0.94,0.94,0.95,0.95,0.96,0.96,0.97,0.97,
  0.98,0.98,0.98,0.98,0.99,0.99,1.0,1.0,1.0,1.0,1.0,1.0,1.0,1.0,1.0,1.0,1.0,1.0,1.0,1.0,
  1.0,1.0,1.01,1.01,1.01,1.01,1.01,1.01,1.01,1.01,1.02,1.02,1.02,1.02,1.02,1.02,1.02,1.02,1.02,1.02,
  1.02,1.02,1.03,1.03,1.03,1.03,1.03,1.03,1.03,1.03,1.03,1.03,1.03,1.03,1.03,1.03,1.03,1.03,1.03,1.03,
  1.03
];
var o4K = [
  0,0,0,0,0,0,0,0,0,0,0,0,0,0,0,0,0,0,0,0,
  0,0,0,0,0,0,0,0,0,0,0,0,0,0,0,0,0,0,0,0,
  0,0,0,0,0,0,0,0,0,0,0,0,0,0,0,0,0,0,0,0,
  0,0,0,0,0,0,0,0,0,0,0,0,0,0,0,0,0,0,0,0,
  0,0,0,0,0,0,0,0,0,0,0,0,0,0,0,0,0,0,0,0,
  0,0.05,0.15,0.42,0.62,0.86,1.06,1.2,1.33,1.43,1.52,1.62,1.72,1.8,1.84,1.83,1.79,1.68,1.55,1.45,
  1.36,1.27,1.18,1.12,1.08,1.04,1.0,0.97,0.95,0.92,0.9,0.88,0.87,0.84,0.8,0.77,0.74,0.72,0.7,0.68,
  0.67,0.66,0.65,0.65,0.64,0.64,0.64,0.64,0.64,0.64,0.65,0.65,0.65,0.65,0.66,0.66,0.67,0.67,0.68,0.68,
  0.69,0.69,0.7,0.7,0.71,0.71,0.72,0.72,0.73,0.73,0.74,0.74,0.74,0.74,0.75,0.75,0.75,0.75,0.75,0.75,
  0.74,0.74,0.73,0.73,0.72,0.72,0.71,0.71,0.7,0.7,0.69,0.69,0.68,0.68,0.68,0.68,0.68,0.68,0.68,0.68,
  0.68,0.68,0.68,0.68,0.68,0.68,0.68,0.68,0.69,0.69,0.69,0.69,0.7,0.7,0.7,0.7,0.71,0.72,0.72,0.73,
  0.75,0.75,0.76,0.77,0.78,0.79,0.8,0.8,0.81,0.81,0.82,0.82,0.83,0.83,0.84,0.84,0.85,0.85,0.86,0.86,
  0.86,0.86,0.87,0.87,0.87,0.87,0.88,0.88,0.88,0.88,0.89,0.89,0.89,0.89,0.9,0.9,0.9,0.9,0.91,0.91,
  0.91,0.91,0.92,0.92,0.92,0.92,0.93,0.93,0.93,0.93,0.93,0.93,0.94,0.94,0.94,0.94,0.94,0.94,0.94,0.94,
  0.95,0.95,0.95,0.95,0.95,0.95,0.95,0.95,0.95,0.95,0.95,0.95,0.95,0.95,0.96,0.96,0.96,0.96,0.96,0.96,
  0.96,0.96,0.96,0.96,0.96,0.96,0.96,0.96,0.96,0.96,0.96,0.96,0.96,0.96,0.96,0.96,0.96,0.96,0.96,0.96,
  0.96
];

var panelNames = [
  ['O1-Li', 'O1-Na', 'O1-K'],
  ['O2-Li', 'O2-Na', 'O2-K'],
  ['O3-Li', 'O3-Na', 'O3-K'],
  ['O4-Li', 'O4-Na', 'O4-K']
];
var panelData = [
  [o1Li, o1Na, o1K],
  [o2Li, o2Na, o2K],
  [o3Li, o3Na, o3K],
  [o4Li, o4Na, o4K]
];
var panelTags = ['(a)', '(b)', '(c)', '(d)'];
var yMax = [22, 10, 2.19, 2.19];
var yStep = [5, 2, 0.5, 0.5];
var yDigits = [0, 0, 1, 1];
var xTicks = [0, 1, 2, 3, 4, 5, 6, 7, 8];

var FONT = '"Liberation Serif", "Times New Roman", serif';
var colors = ['#515151', '#F14040', '#1A6FDF'];
var symbols = ['rect', 'circle', 'triangle'];
var symbolSizes = [40, 44, [52, 46]];
var symbolOffsets = [[0, 0], [0, 0], [0, -8]];

var plotLeft = 329, plotWidth = 2676, panelH = 467;
var tops = [50, 517, 984, 1451];
var legendTop = [80, 548, 1014, 1475];

var grids = [], xAxes = [], yAxes = [], series = [], legends = [];
var problems = [];

function axisLineStyle() {
  return { show: true, onZero: false, lineStyle: { color: '#000', width: 5 } };
}

for (var g = 0; g < 4; g++) {
  grids.push({
    left: plotLeft, width: plotWidth, top: tops[g], height: panelH,
    show: true, backgroundColor: '#fff', borderWidth: 0, z: 10 + 10 * g
  });

  // bottom x axis, ticks out
  xAxes.push({
    type: 'value', gridIndex: g, position: 'bottom', min: 0, max: 8, interval: 1, z: 70,
    axisLine: axisLineStyle(),
    axisTick: { show: true, inside: false, length: 30, lineStyle: { color: '#000', width: 5 } },
    minorTick: { show: true, splitNumber: 2, length: 15, lineStyle: { color: '#000', width: 5 } },
    splitLine: { show: false },
    axisLabel: {
      show: g === 3, margin: 60, color: '#000', fontFamily: FONT, fontSize: 78,
      formatter: function (v) { return xTicks.indexOf(v) >= 0 ? String(v) : ''; }
    },
    name: g === 3 ? 'r [Å]' : '',
    nameLocation: 'middle', nameGap: 188,
    nameTextStyle: { color: '#000', fontFamily: FONT, fontWeight: 'bold', fontSize: 92 }
  });
  // top x axis, ticks in
  xAxes.push({
    type: 'value', gridIndex: g, position: 'top', min: 0, max: 8, interval: 1, z: 70,
    axisLine: axisLineStyle(),
    axisTick: { show: true, inside: true, length: 30, lineStyle: { color: '#000', width: 5 } },
    minorTick: { show: true, splitNumber: 2, length: 13, lineStyle: { color: '#000', width: 5 } },
    splitLine: { show: false },
    axisLabel: { show: false }
  });

  (function (step, digits) {
    yAxes.push({
      type: 'value', gridIndex: g, position: 'left', min: 0, max: yMax[g], interval: step, z: 70,
      axisLine: axisLineStyle(),
      axisTick: { show: true, inside: false, length: 35, lineStyle: { color: '#000', width: 5 } },
      minorTick: { show: true, splitNumber: 2, length: 18, lineStyle: { color: '#000', width: 5 } },
      splitLine: { show: false },
      axisLabel: {
        show: true, margin: 62, color: '#000', fontFamily: FONT, fontSize: 78,
        formatter: function (v) {
          var k = v / step;
          if (Math.abs(k - Math.round(k)) > 1e-6) return '';
          return v.toFixed(digits);
        }
      }
    });
  })(yStep[g], yDigits[g]);
  yAxes.push({
    type: 'value', gridIndex: g, position: 'right', min: 0, max: yMax[g], interval: yStep[g], z: 70,
    axisLine: axisLineStyle(),
    axisTick: { show: true, inside: true, length: 33, lineStyle: { color: '#000', width: 5 } },
    minorTick: { show: true, splitNumber: 2, length: 15, lineStyle: { color: '#000', width: 5 } },
    splitLine: { show: false },
    axisLabel: { show: false }
  });

  for (var s = 0; s < 3; s++) {
    var ys = panelData[g][s];
    if (ys.length !== r.length) problems.push(panelNames[g][s] + ':' + ys.length);
    series.push({
      name: panelNames[g][s],
      type: 'line',
      xAxisIndex: 2 * g,
      yAxisIndex: 2 * g,
      data: r.map(function (x, i) { return [x, ys[i]]; }),
      symbol: symbols[s],
      symbolSize: symbolSizes[s],
      symbolOffset: symbolOffsets[s],
      showSymbol: true,
      showAllSymbol: true,
      clip: true,
      silent: true,
      z: 11 + 10 * g,
      itemStyle: { color: colors[s], opacity: 1 },
      lineStyle: { color: colors[s], width: 2 },
      emphasis: { disabled: true }
    });
  }

  legends.push({
    left: 2427, top: legendTop[g],
    orient: 'vertical',
    data: panelNames[g],
    itemWidth: 190, itemHeight: 50, itemGap: 12,
    padding: [14, 12, 14, 11],
    backgroundColor: '#fff', borderColor: '#000', borderWidth: 2,
    selectedMode: false, z: 60,
    textStyle: { color: '#000', fontFamily: FONT, fontSize: 91, lineHeight: 88, padding: [0, 0, 0, 45] }
  });
}

var tagPos = [[652, 133], [671, 630], [685, 1086], [689, 1577]];
var graphics = [
  // white margins so the markers stay inside the frame
  { type: 'rect', silent: true, z: 50, shape: { x: 0, y: 0, width: 327, height: 2230 }, style: { fill: '#fff' } },
  { type: 'rect', silent: true, z: 50, shape: { x: 3008, y: 0, width: 45, height: 2230 }, style: { fill: '#fff' } },
  { type: 'rect', silent: true, z: 50, shape: { x: 0, y: 1921, width: 3053, height: 309 }, style: { fill: '#fff' } },
  { type: 'rect', silent: true, z: 50, shape: { x: 0, y: 0, width: 3053, height: 47 }, style: { fill: '#fff' } },
  {
    type: 'text', z: 80, x: 83, y: 1221, rotation: Math.PI / 2,
    style: { text: 'g(r)', font: '90px ' + FONT, fill: '#000', textAlign: 'center', textVerticalAlign: 'middle' }
  }
];
for (var t = 0; t < 4; t++) {
  graphics.push({
    type: 'text', z: 80, x: tagPos[t][0], y: tagPos[t][1],
    style: { text: panelTags[t], font: '92px ' + FONT, fill: '#000', textAlign: 'center', textVerticalAlign: 'middle' }
  });
}
if (problems.length) {
  graphics.push({ type: 'text', z: 99, x: 900, y: 2200, style: { text: 'LEN ' + problems.join(' '), font: '40px sans-serif', fill: '#f00' } });
}

var chart = echarts.init(document.getElementById('main'));
chart.setOption({
  animation: false,
  backgroundColor: '#fff',
  grid: grids,
  xAxis: xAxes,
  yAxis: yAxes,
  legend: legends,
  series: series,
  graphic: graphics
});
</script>
</body>
</html>
